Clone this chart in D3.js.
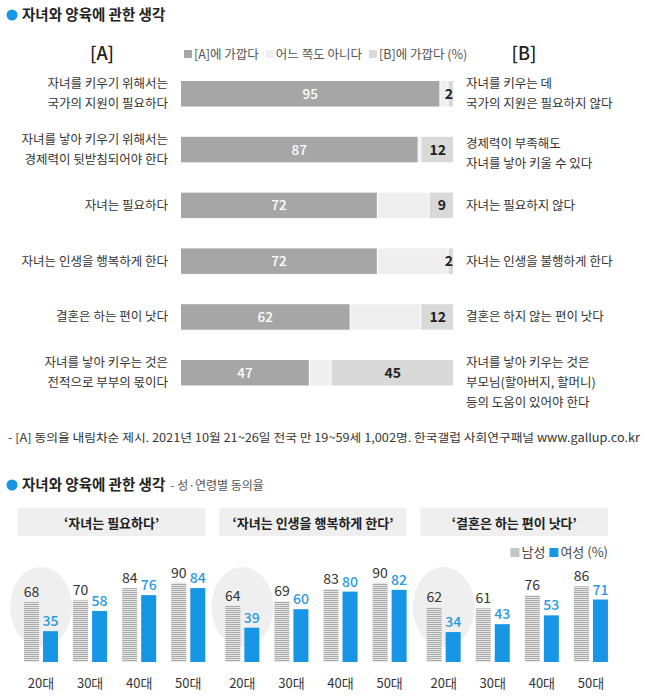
<!DOCTYPE html>
<html><head><meta charset="utf-8">
<script src="https://cdn.jsdelivr.net/npm/d3@7"></script>
<style>
html,body{margin:0;padding:0;background:#fff;}
svg{display:block;font-family:"Noto Sans CJK KR","Noto Sans",sans-serif;}
</style></head>
<body>
<svg id="chart" width="647" height="697"></svg>
<script>
// ---------- Data: top chart ----------
const topIds = ["q1","q2","q3","q4","q5","q6"];
const leftLabels = [
  ["자녀를 키우기 위해서는","국가의 지원이 필요하다"],
  ["자녀를 낳아 키우기 위해서는","경제력이 뒷받침되어야 한다"],
  ["자녀는 필요하다"],
  ["자녀는 인생을 행복하게 한다"],
  ["결혼은 하는 편이 낫다"],
  ["자녀를 낳아 키우는 것은","전적으로 부부의 몫이다"]
];
const rightLabels = [
  ["자녀를 키우는 데","국가의 지원은 필요하지 않다"],
  ["경제력이 부족해도","자녀를 낳아 키울 수 있다"],
  ["자녀는 필요하지 않다"],
  ["자녀는 인생을 불행하게 한다"],
  ["결혼은 하지 않는 편이 낫다"],
  ["자녀를 낳아 키우는 것은","부모님(할아버지, 할머니)","등의 도움이 있어야 한다"]
];
const aValues = [95, 87, 72, 72, 62, 47];
const neitherValues = [3, 1, 19, 26, 26, 8];
const bValues = [2, 12, 9, 2, 12, 45];
const legendLabels = ["[A]에 가깝다", "어느 쪽도 아니다", "[B]에 가깝다 (%)"];
const titleText = "자녀와 양육에 관한 생각";
const footnote = "- [A] 동의율 내림차순 제시. 2021년 10월 21~26일 전국 만 19~59세 1,002명. 한국갤럽 사회연구패널 www.gallup.co.kr";

// ---------- Data: bottom chart ----------
const subTitle = "- 성·연령별 동의율";
const panelTitles = ["‘자녀는 필요하다’", "‘자녀는 인생을 행복하게 한다’", "‘결혼은 하는 편이 낫다’"];
const ageGroups = ["20대", "30대", "40대", "50대"];
const maleValues = [[68, 70, 84, 90], [64, 69, 83, 90], [62, 61, 76, 86]];
const femaleValues = [[35, 58, 76, 84], [39, 60, 80, 82], [34, 43, 53, 71]];
const sexLabels = ["남성", "여성 (%)"];

// ---------- Styles ----------
const colA = "#a6a6a6", colN = "#efefef", colB = "#d9d9d9";
const blue = "#1896e6", blueText = "#2a9ae0", textCol = "#333";

const svg = d3.select("#chart");
const defs = svg.append("defs");
const pat = defs.append("pattern").attr("id","stripe").attr("patternUnits","userSpaceOnUse")
  .attr("width",4).attr("height",2);
pat.append("rect").attr("width",4).attr("height",2).attr("fill","#e6e6e6");
pat.append("rect").attr("width",4).attr("height",1).attr("fill","#aaaaaa");

function titleRow(y, sub){
  svg.append("circle").attr("cx",12).attr("cy",y).attr("r",5.5).attr("fill",blue);
  const t = svg.append("text").attr("x",22).attr("y",y+5).attr("font-size",14.5)
    .attr("font-weight","bold").attr("fill","#222").text(titleText);
  if(sub){
    const w = t.node().getComputedTextLength();
    svg.append("text").attr("x",22+w+5).attr("y",y+4.5).attr("font-size",12)
      .attr("fill","#555").text(sub);
  }
}

// ---------- Top chart ----------
titleRow(15, null);

const x = d3.scaleLinear().domain([0,100]).range([181, 453]);
const y = d3.scaleBand().domain(topIds).range([81, 385.5]).paddingInner(0.543).paddingOuter(0);
const bh = y.bandwidth();

svg.append("text").attr("x",102).attr("y",60).attr("text-anchor","middle")
  .attr("font-size",18).attr("font-weight","500").attr("fill","#222").text("[A]");
svg.append("text").attr("x",524).attr("y",60).attr("text-anchor","middle")
  .attr("font-size",18).attr("font-weight","500").attr("fill","#222").text("[B]");

// legend
{
  const g = svg.append("g").attr("font-size",12.5).attr("fill","#555");
  const cols = [colA, colN, colB];
  let cx = 184;
  legendLabels.forEach((lab,i)=>{
    g.append("rect").attr("x",cx).attr("y",50).attr("width",8).attr("height",8).attr("fill",cols[i]);
    const t = g.append("text").attr("x",cx+10).attr("y",58.5).text(lab);
    cx += 10 + t.node().getComputedTextLength() + 7;
  });
}

topIds.forEach((id,i)=>{
  const y0 = y(id);
  const a = aValues[i], n = neitherValues[i], b = bValues[i];
  const segs = [
    {s:0, e:a, c:colA},
    {s:a, e:a+n, c:colN},
    {s:100-b, e:100, c:colB}
  ];
  segs.forEach(sg=>{
    const xs = x(sg.s) + (sg.s>0 ? 1 : 0);
    const w = Math.max(0, x(sg.e) - xs);
    svg.append("rect").attr("x",xs).attr("y",y0).attr("width",w).attr("height",bh).attr("fill",sg.c);
  });
  svg.append("text").attr("x",(x(0)+x(a))/2).attr("y",y0+bh/2+5).attr("text-anchor","middle")
    .attr("font-size",13.5).attr("font-weight","500").attr("fill","#fff").text(a);
  svg.append("text").attr("x",Math.min((x(100-b)+x(100))/2+1, 449)).attr("y",y0+bh/2+5).attr("text-anchor","middle")
    .attr("font-size",14).attr("font-weight","bold").attr("fill","#222").text(b);

  const cy = y0 + bh/2;
  const L = leftLabels[i];
  const lh = 20;
  L.forEach((line,j)=>{
    const ly = L.length===1 ? cy : cy - lh/2 + j*lh;
    svg.append("text").attr("x",168).attr("y",ly+4.5).attr("text-anchor","end")
      .attr("font-size",12.5).attr("fill",textCol).text(line);
  });
  const R = rightLabels[i];
  R.forEach((line,j)=>{
    const ly = R.length===1 ? cy : cy - lh/2 + j*lh + (i===1?4:0);
    svg.append("text").attr("x",466).attr("y",ly+4.5).attr("text-anchor","start")
      .attr("font-size",12.5).attr("fill",textCol).text(line);
  });
});

svg.append("text").attr("x",8).attr("y",442).attr("font-size",11.4).attr("fill",textCol)
  .attr("textLength",632).attr("lengthAdjust","spacingAndGlyphs").text(footnote);

// ---------- Bottom chart ----------
titleRow(485, subTitle);

const panelX = d3.scaleBand().domain(d3.range(panelTitles.length)).range([18, 608]).paddingInner(14/201.5).paddingOuter(0);
const pw = panelX.bandwidth();
const yB = d3.scaleLinear().domain([0,100]).range([662, 574]);
const sexBand = d3.scaleBand().domain(["m","f"]).range([0,34]).paddingInner(4/19).paddingOuter(0);

panelTitles.forEach((pt,p)=>{
  const px = panelX(p);
  svg.append("rect").attr("x",px).attr("y",508).attr("width",pw).attr("height",28).attr("fill","#efefef");
  svg.append("text").attr("x",px+pw/2).attr("y",528).attr("text-anchor","middle")
    .attr("font-size",13).attr("font-weight","bold").attr("fill","#222").text(pt);

  const gx = d3.scaleBand().domain(ageGroups).range([px+6, px+pw]).paddingInner(15/49).paddingOuter(0);
  // highlight ellipse for first age group
  const g0 = gx(ageGroups[0]) + gx.bandwidth()/2;
  svg.append("ellipse").attr("cx",g0).attr("cy",607).attr("rx",31).attr("ry",40).attr("fill","#efefef");

  ageGroups.forEach((ag,k)=>{
    const gxx = gx(ag);
    const m = maleValues[p][k], f = femaleValues[p][k];
    const mx = gxx + sexBand("m"), fx = gxx + sexBand("f"), bw = sexBand.bandwidth();
    svg.append("rect").attr("x",mx).attr("y",yB(m)).attr("width",bw).attr("height",yB(0)-yB(m)).attr("fill","url(#stripe)");
    svg.append("rect").attr("x",fx).attr("y",yB(f)).attr("width",bw).attr("height",yB(0)-yB(f)).attr("fill",blue);
    svg.append("text").attr("x",mx+bw/2).attr("y",yB(m)-5).attr("text-anchor","middle")
      .attr("font-size",14).attr("fill","#333").text(m);
    svg.append("text").attr("x",fx+bw/2).attr("y",yB(f)-5).attr("text-anchor","middle")
      .attr("font-size",14).attr("font-weight","500").attr("fill",blueText).text(f);
    svg.append("text").attr("x",gxx+gx.bandwidth()/2).attr("y",688).attr("text-anchor","middle")
      .attr("font-size",13).attr("fill","#333").text(ag);
  });
});

// bottom legend (right aligned to last panel)
{
  const g = svg.append("g").attr("font-size",13).attr("fill","#444");
  const right = panelX(panelTitles.length-1) + pw;
  const t2 = g.append("text").attr("x",right).attr("y",557).attr("text-anchor","end").text(sexLabels[1]);
  const w2 = t2.node().getComputedTextLength();
  g.append("rect").attr("x",right-w2-11).attr("y",548).attr("width",9).attr("height",9).attr("fill",blue);
  const t1 = g.append("text").attr("x",right-w2-15).attr("y",557).attr("text-anchor","end").text(sexLabels[0]);
  const w1 = t1.node().getComputedTextLength();
  g.append("rect").attr("x",right-w2-15-w1-11).attr("y",548).attr("width",9).attr("height",9).attr("fill","#c4c4c4");
}
</script>
</body></html>
